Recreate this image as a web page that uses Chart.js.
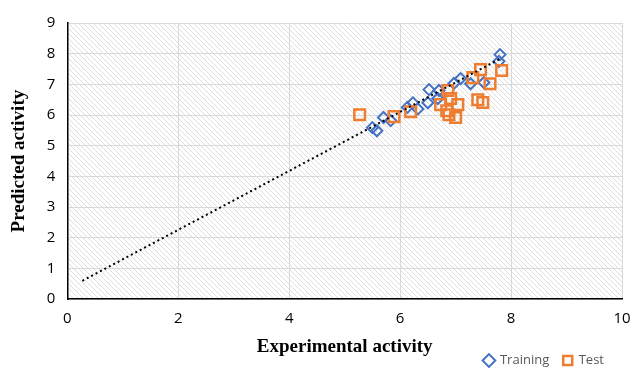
<!DOCTYPE html>
<html>
<head>
<meta charset="utf-8">
<script src="https://cdn.jsdelivr.net/npm/chart.js@4"></script>
<style>
  html, body { margin: 0; padding: 0; background: #fff; }
  #wrap { width: 632px; height: 368px; }
</style>
</head>
<body>
<div id="wrap"><canvas id="chart"></canvas></div>
<script>
// Experimental vs predicted activity
const trainingX = [5.50, 5.58, 5.70, 5.83, 6.13, 6.23, 6.32, 6.50, 6.52, 6.68, 6.70, 6.97, 7.09, 7.27, 7.51, 7.78, 7.80];
const trainingY = [5.59, 5.49, 5.92, 5.82, 6.25, 6.40, 6.20, 6.40, 6.83, 6.54, 6.80, 7.03, 7.19, 7.02, 7.06, 7.75, 7.97];
const testX = [5.27, 5.89, 6.19, 6.73, 6.84, 6.86, 6.88, 6.91, 7.00, 7.04, 7.31, 7.40, 7.45, 7.49, 7.62, 7.83];
const testY = [6.01, 5.95, 6.11, 6.34, 6.14, 6.80, 6.01, 6.54, 5.92, 6.34, 7.22, 6.50, 7.48, 6.41, 7.02, 7.45];
const trendX = [0.27, 7.82];
const trendY = [0.60, 7.85];
const xTicks = [0, 2, 4, 6, 8, 10];
const yTicks = [0, 1, 2, 3, 4, 5, 6, 7, 8, 9];

const toPoints = (xs, ys) => xs.map((x, i) => ({ x: x, y: ys[i] }));

const LEGEND_SHIFT = 14;

// diagonal hatch behind the plot area
const hatch = {
    id: 'hatch',
    beforeDraw(chart) {
        const { ctx, chartArea: a } = chart;
        const p = document.createElement('canvas');
        p.width = 5; p.height = 5;
        const pc = p.getContext('2d');
        pc.fillStyle = '#ffffff';
        pc.fillRect(0, 0, 5, 5);
        pc.strokeStyle = '#dedede';
        pc.lineWidth = 1;
        pc.beginPath();
        pc.moveTo(-1, -1); pc.lineTo(6, 6);
        pc.moveTo(-1, 4); pc.lineTo(1, 6);
        pc.moveTo(4, -1); pc.lineTo(6, 1);
        pc.stroke();
        ctx.save();
        ctx.fillStyle = ctx.createPattern(p, 'repeat');
        ctx.fillRect(a.left, a.top, a.right - a.left, a.bottom - a.top);
        ctx.restore();
        // pull the legend in a little from the right edge, only while drawing
        chart.legend.right -= LEGEND_SHIFT;
    },
    afterDraw(chart) {
        chart.legend.right += LEGEND_SHIFT;
    }
};

new Chart(document.getElementById('chart'), {
    type: 'scatter',
    data: {
        datasets: [{
            label: 'Training',
            data: toPoints(trainingX, trainingY),
            pointStyle: 'rectRot',
            pointRadius: 5.5,
            borderColor: '#4472C4',
            backgroundColor: 'rgba(255,255,255,0)',
            pointBorderWidth: 2,
            order: 2
        }, {
            label: 'Test',
            data: toPoints(testX, testY),
            pointStyle: 'rect',
            pointRadius: 7.5,
            borderColor: '#ED7D31',
            backgroundColor: 'rgba(255,255,255,0)',
            pointBorderWidth: 2.5,
            order: 1
        }, {
            label: 'trend',
            type: 'line',
            data: toPoints(trendX, trendY),
            borderColor: '#000000',
            borderWidth: 2,
            borderDash: [2, 3],
            pointRadius: 0,
            fill: false,
            order: 0
        }]
    },
    options: {
        responsive: true,
        maintainAspectRatio: false,
        animation: false,
        layout: { padding: { top: 23, right: 0, left: 8, bottom: -9 } },
        plugins: {
            tooltip: { enabled: false },
            legend: {
                position: 'bottom',
                align: 'end',
                labels: {
                    filter: (item) => item.text !== 'trend',
                    sort: (a, b) => a.datasetIndex - b.datasetIndex,
                    usePointStyle: true,
                    boxWidth: 9,
                    boxHeight: 9,
                    padding: 14,
                    color: '#595959',
                    font: { family: 'Open Sans', size: 13 }
                }
            }
        },
        scales: {
            x: {
                type: 'linear',
                min: 0, max: 10,
                afterBuildTicks: (axis) => { axis.ticks = xTicks.map(v => ({ value: v })); },
                // only leave room for half of the "10" label on the right
                afterFit: (axis) => { axis.paddingRight = 10; },
                grid: { color: '#d9d9d9', drawTicks: false },
                border: { color: '#000000', width: 1.5 },
                ticks: { color: '#000', padding: 11, font: { family: 'Open Sans', size: 15 } },
                title: {
                    display: true,
                    text: 'Experimental activity',
                    color: '#000',
                    padding: { top: -4, bottom: -18 },
                    font: { family: 'Liberation Serif', size: 19, weight: 'bold' }
                }
            },
            y: {
                type: 'linear',
                min: 0, max: 9,
                afterBuildTicks: (axis) => { axis.ticks = yTicks.map(v => ({ value: v })); },
                grid: { color: '#d9d9d9', drawTicks: false },
                border: { color: '#000000', width: 1.5 },
                ticks: { color: '#000', padding: 12, font: { family: 'Open Sans', size: 15 } },
                title: {
                    display: true,
                    text: 'Predicted activity',
                    color: '#000',
                    padding: { top: 0, bottom: 4 },
                    font: { family: 'Liberation Serif', size: 19, weight: 'bold' }
                }
            }
        }
    },
    plugins: [hatch]
});
</script>
</body>
</html>
